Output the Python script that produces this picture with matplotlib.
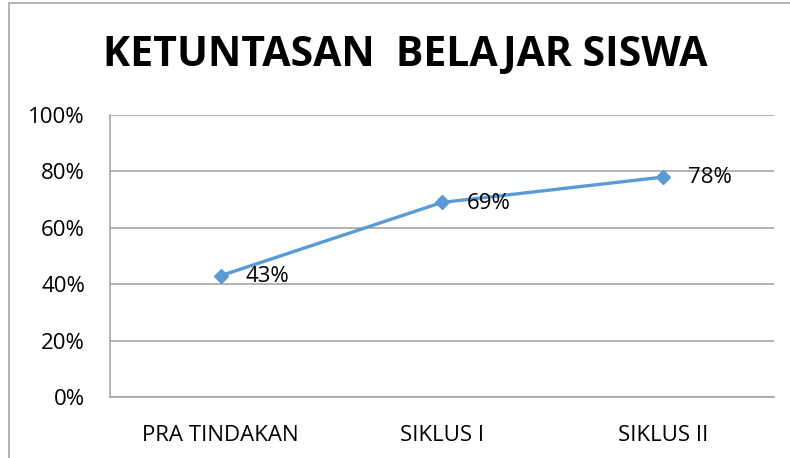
import matplotlib.pyplot as plt
from matplotlib.patches import Rectangle
from matplotlib.ticker import PercentFormatter

# --- data ---
categories = ['PRA TINDAKAN', 'SIKLUS I', 'SIKLUS II']
ketuntasan = [0.43, 0.69, 0.78]
value_labels = ['43%', '69%', '78%']

plt.rcParams['font.family'] = ['Open Sans', 'DejaVu Sans']

fig = plt.figure(figsize=(7.9, 4.58), dpi=100)
W, H = 790, 458

# chart border (cropped on right/bottom in reference)
fig.patches.append(Rectangle((9 / W, -0.1), 1.2, (H - 3) / H + 0.1, transform=fig.transFigure,
                             fill=False, edgecolor='#A6A6A6', lw=1.2))

ax = fig.add_axes([110 / W, 1 - 397 / H, 664 / W, 282 / H])
x = range(len(categories))
ax.plot(x, ketuntasan, color='#5B9BD5', lw=2.4, marker='D', markersize=7.5, zorder=3)
for xi, v, lab in zip(x, ketuntasan, value_labels):
    ax.annotate(lab, (xi, v), xytext=(18, -0.5), textcoords='offset points',
                ha='left', va='center', fontsize=16, color='black')

ax.set_xlim(-0.5, len(categories) - 0.5)
ax.set_ylim(0, 1)
ax.set_yticks([0, 0.2, 0.4, 0.6, 0.8, 1.0])
ax.yaxis.set_major_formatter(PercentFormatter(1.0, decimals=0))
ax.set_xticks(list(x))
ax.set_xticklabels(categories)
ax.tick_params(axis='both', length=0, labelsize=16)
ax.tick_params(axis='y', pad=18)
ax.tick_params(axis='x', pad=20)
ax.grid(axis='y', color='#A6A6A6', lw=1.2)
ax.set_axisbelow(True)
for s in ['top', 'right']:
    ax.spines[s].set_visible(False)
for s in ['left', 'bottom']:
    ax.spines[s].set_color('#A6A6A6')
    ax.spines[s].set_linewidth(1.2)

fig.text(405 / W, 1 - 55 / H, 'KETUNTASAN  BELAJAR SISWA', ha='center', va='center',
         fontsize=29.5, fontweight='bold')

fig.savefig('out.png', dpi=100)
